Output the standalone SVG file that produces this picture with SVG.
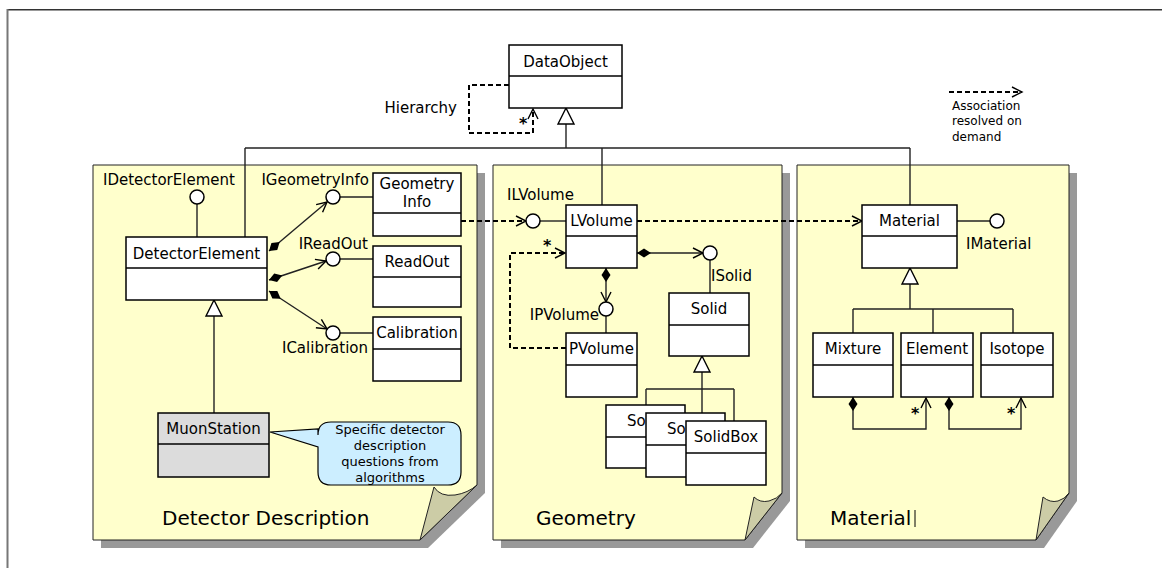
<svg xmlns="http://www.w3.org/2000/svg" width="1162" height="568" viewBox="0 0 1162 568">
  <style>
    text { font-family: "DejaVu Sans", "Liberation Sans", sans-serif; fill: #000; }
    .lbl { font-size: 15px; }
    .cls { font-size: 15px; text-anchor: middle; }
    .small { font-size: 12px; }
    .note { font-size: 13px; text-anchor: middle; }
    .title { font-size: 20px; }
    .star { font-size: 16px; font-weight: bold; }
    .box { fill: #fff; stroke: #000; stroke-width: 1.5; }
    .grey { fill: #dcdcdc; }
    .div { stroke: #000; stroke-width: 1.5; }
    .page { fill: #ffffcc; stroke: #222; stroke-width: 1; }
    .shadow { fill: #999; }
    .flap { fill: #cccca6; stroke: #222; stroke-width: 1; }
    .ln { fill: none; stroke: #222; stroke-width: 1.4; }
    .dash { fill: none; stroke: #000; stroke-width: 2; stroke-dasharray: 5 3; }
    .lolly { fill: #fff; stroke: #000; stroke-width: 1.5; }
  </style>
  <defs>
    <marker id="open" markerUnits="userSpaceOnUse" markerWidth="12" markerHeight="12" refX="10" refY="5" orient="auto" overflow="visible">
      <path d="M0,0 L10,5 L0,10" fill="none" stroke="#000" stroke-width="1.4"/>
    </marker>
    <marker id="tri" markerUnits="userSpaceOnUse" markerWidth="18" markerHeight="18" refX="16" refY="8" orient="auto" overflow="visible">
      <path d="M0,0 L16,8 L0,16 Z" fill="#fff" stroke="#000" stroke-width="1.4"/>
    </marker>
    <marker id="dia" markerUnits="userSpaceOnUse" markerWidth="16" markerHeight="10" refX="0" refY="4.5" orient="auto" overflow="visible">
      <path d="M0,4.5 L7,0 L14,4.5 L7,9 Z" fill="#000"/>
    </marker>
  </defs>

  <!-- outer frame -->
  <rect x="0" y="0" width="1162" height="568" fill="#fff"/>
  <line x1="7" y1="9.5" x2="1162" y2="9.5" stroke="#333" stroke-width="1"/>
  <line x1="7" y1="10.5" x2="1162" y2="10.5" stroke="#999" stroke-width="1"/>
  <line x1="7.5" y1="9" x2="7.5" y2="568" stroke="#777" stroke-width="2"/>

  <!-- packages drawn as curled pages -->
  <g id="pkg-detector">
    <path class="shadow" d="M101,173 H485 V493 L428,548 H101 Z"/>
    <path class="page" d="M93,165 H477 V485 L420,540 H93 Z"/>
    <path class="flap" d="M420,540 L434,487 Q440,497 455,495 Q468,493 477,485 Z"/>
    <text class="title" x="162" y="525">Detector Description</text>
  </g>
  <g id="pkg-geometry">
    <path class="shadow" d="M501,173 H790 V501 L753,548 H501 Z"/>
    <path class="page" d="M493,165 H782 V493 L745,540 H493 Z"/>
    <path class="flap" d="M745,540 L754,497 Q760,503 769,501 Q777,499 782,493 Z"/>
    <text class="title" x="536" y="525">Geometry</text>
  </g>
  <g id="pkg-material">
    <path class="shadow" d="M805,173 H1077 V501 L1044,548 H805 Z"/>
    <path class="page" d="M797,165 H1069 V493 L1036,540 H797 Z"/>
    <path class="flap" d="M1036,540 L1043,497 Q1050,503 1058,501 Q1065,499 1069,493 Z"/>
    <text class="title" x="830" y="525">Material</text>
    <line x1="915" y1="510" x2="915" y2="527" stroke="#000" stroke-width="1"/>
  </g>

  <!-- connectors -->
  <g id="connectors">
    <!-- inheritance from DataObject -->
    <path class="ln" d="M566,148 V108" marker-end="url(#tri)"/>
    <path class="ln" d="M245,148 H910"/>
    <path class="ln" d="M245,148 V237"/>
    <path class="ln" d="M602,148 V205"/>
    <path class="ln" d="M910,148 V205"/>
    <!-- hierarchy self association -->
    <path class="dash" d="M509,85 H469 V133 H533 V109" marker-end="url(#open)"/>

    <!-- detector element interfaces -->
    <path class="ln" d="M197,204 V237"/>
    <path class="ln" d="M340,197 H373"/>
    <path class="ln" d="M340,259 H373"/>
    <path class="ln" d="M340,333 H373"/>
    <path class="ln" d="M269,251 L327,202" marker-start="url(#dia)" marker-end="url(#open)"/>
    <path class="ln" d="M269,280 L326,261" marker-start="url(#dia)" marker-end="url(#open)"/>
    <path class="ln" d="M269,291 L327,329" marker-start="url(#dia)" marker-end="url(#open)"/>
    <path class="ln" d="M214,413 V300" marker-end="url(#tri)"/>

    <!-- geometry info to logical volume -->
    <path class="dash" d="M461,221 H526" marker-end="url(#open)"/>
    <path class="ln" d="M540,221 H566"/>
    <path class="dash" d="M637,221 H862" marker-end="url(#open)"/>
    <path class="ln" d="M957,221 H990"/>

    <!-- logical volume compositions -->
    <path class="ln" d="M637,253 H703" marker-start="url(#dia)" marker-end="url(#open)"/>
    <path class="ln" d="M710,260 V293"/>
    <path class="ln" d="M606,268 V302" marker-start="url(#dia)" marker-end="url(#open)"/>
    <path class="ln" d="M606,316 V333"/>
    <path class="dash" d="M566,348 H510 V253 H565" marker-end="url(#open)"/>

    <!-- solid subclasses -->
    <path class="ln" d="M702,389 V356" marker-end="url(#tri)"/>
    <path class="ln" d="M646,389 H734"/>
    <path class="ln" d="M646,389 V405"/>
    <path class="ln" d="M702,389 V413"/>
    <path class="ln" d="M734,389 V421"/>

    <!-- material subclasses -->
    <path class="ln" d="M910,309 V268" marker-end="url(#tri)"/>
    <path class="ln" d="M853,309 H1013"/>
    <path class="ln" d="M853,309 V333"/>
    <path class="ln" d="M933,309 V333"/>
    <path class="ln" d="M1013,309 V333"/>
    <path class="ln" d="M853,397 V429 H926 V398" marker-start="url(#dia)" marker-end="url(#open)"/>
    <path class="ln" d="M949,397 V429 H1021 V398" marker-start="url(#dia)" marker-end="url(#open)"/>

    <!-- legend -->
    <path class="dash" d="M949,92 H1022" marker-end="url(#open)"/>
  </g>

  <!-- multiplicities and labels -->
  <g id="labels">
    <text class="lbl" x="457" y="113" text-anchor="end">Hierarchy</text>
    <text class="star" x="519" y="129">*</text>
    <text class="star" x="543" y="251">*</text>
    <text class="star" x="911" y="419">*</text>
    <text class="star" x="1007" y="419">*</text>
    <text class="small" x="952" y="110">Association</text>
    <text class="small" x="952" y="125">resolved on</text>
    <text class="small" x="952" y="141">demand</text>
  </g>

  <!-- classes -->
  <g id="DataObject">
    <rect class="box" x="509" y="45" width="113" height="63"/>
    <line class="div" x1="509" y1="76" x2="622" y2="76"/>
    <text class="cls" x="565.5" y="67">DataObject</text>
  </g>

  <g id="IDetectorElement">
    <circle class="lolly" cx="197" cy="197" r="7"/>
    <text class="lbl" x="103" y="185">IDetectorElement</text>
  </g>
  <g id="DetectorElement">
    <rect class="box" x="126" y="237" width="141" height="63"/>
    <line class="div" x1="126" y1="268" x2="267" y2="268"/>
    <text class="cls" x="196.5" y="259">DetectorElement</text>
  </g>
  <g id="IGeometryInfo">
    <circle class="lolly" cx="333" cy="197" r="7"/>
    <text class="lbl" x="369" y="185" text-anchor="end">IGeometryInfo</text>
  </g>
  <g id="GeometryInfo">
    <rect class="box" x="373" y="173" width="88" height="63"/>
    <line class="div" x1="373" y1="213" x2="461" y2="213"/>
    <text class="cls" x="417" y="189">Geometry</text>
    <text class="cls" x="417" y="207">Info</text>
  </g>
  <g id="IReadOut">
    <circle class="lolly" cx="333" cy="259" r="7"/>
    <text class="lbl" x="368" y="249" text-anchor="end">IReadOut</text>
  </g>
  <g id="ReadOut">
    <rect class="box" x="373" y="246" width="88" height="61"/>
    <line class="div" x1="373" y1="277" x2="461" y2="277"/>
    <text class="cls" x="417" y="267">ReadOut</text>
  </g>
  <g id="ICalibration">
    <circle class="lolly" cx="333" cy="333" r="7"/>
    <text class="lbl" x="368" y="353" text-anchor="end">ICalibration</text>
  </g>
  <g id="Calibration">
    <rect class="box" x="373" y="317" width="88" height="64"/>
    <line class="div" x1="373" y1="349" x2="461" y2="349"/>
    <text class="cls" x="417" y="338">Calibration</text>
  </g>
  <g id="MuonStation">
    <rect class="box grey" x="158" y="413" width="111" height="64"/>
    <line class="div" x1="158" y1="444" x2="269" y2="444"/>
    <text class="cls" x="213.5" y="434">MuonStation</text>
  </g>
  <g id="note">
    <path d="M331,422 H448 Q461,422 461,435 V472 Q461,485 448,485 H331 Q318,485 318,472 V447 L270,432 L318,429 V435 Q318,422 331,422 Z" fill="#cceeff" stroke="#000" stroke-width="1.2"/>
    <text class="note" x="390" y="434">Specific detector</text>
    <text class="note" x="390" y="450">description</text>
    <text class="note" x="390" y="466">questions from</text>
    <text class="note" x="390" y="482">algorithms</text>
  </g>

  <g id="ILVolume">
    <circle class="lolly" cx="533" cy="221" r="7"/>
    <text class="lbl" x="507" y="200">ILVolume</text>
  </g>
  <g id="LVolume">
    <rect class="box" x="566" y="205" width="71" height="63"/>
    <line class="div" x1="566" y1="236" x2="637" y2="236"/>
    <text class="cls" x="601.5" y="226">LVolume</text>
  </g>
  <g id="ISolid">
    <circle class="lolly" cx="710" cy="253" r="7"/>
    <text class="lbl" x="711" y="281">ISolid</text>
  </g>
  <g id="Solid">
    <rect class="box" x="669" y="293" width="80" height="63"/>
    <line class="div" x1="669" y1="325" x2="749" y2="325"/>
    <text class="cls" x="709" y="314">Solid</text>
  </g>
  <g id="IPVolume">
    <circle class="lolly" cx="606" cy="309" r="7"/>
    <text class="lbl" x="599" y="320" text-anchor="end">IPVolume</text>
  </g>
  <g id="PVolume">
    <rect class="box" x="566" y="333" width="71" height="64"/>
    <line class="div" x1="566" y1="365" x2="637" y2="365"/>
    <text class="cls" x="601.5" y="354">PVolume</text>
  </g>
  <g id="SolidA">
    <rect class="box" x="606" y="405" width="79" height="63"/>
    <line class="div" x1="606" y1="437" x2="685" y2="437"/>
    <text class="lbl" x="627" y="426">So</text>
  </g>
  <g id="SolidB">
    <rect class="box" x="646" y="413" width="79" height="64"/>
    <line class="div" x1="646" y1="445" x2="725" y2="445"/>
    <text class="lbl" x="667" y="434">So</text>
  </g>
  <g id="SolidBox">
    <rect class="box" x="686" y="421" width="80" height="64"/>
    <line class="div" x1="686" y1="453" x2="766" y2="453"/>
    <text class="cls" x="726" y="442">SolidBox</text>
  </g>

  <g id="Material">
    <rect class="box" x="862" y="205" width="95" height="63"/>
    <line class="div" x1="862" y1="236" x2="957" y2="236"/>
    <text class="cls" x="909.5" y="226">Material</text>
  </g>
  <g id="IMaterial">
    <circle class="lolly" cx="997" cy="221" r="7"/>
    <text class="lbl" x="966" y="249">IMaterial</text>
  </g>
  <g id="Mixture">
    <rect class="box" x="813" y="333" width="80" height="64"/>
    <line class="div" x1="813" y1="365" x2="893" y2="365"/>
    <text class="cls" x="853" y="354">Mixture</text>
  </g>
  <g id="Element">
    <rect class="box" x="901" y="333" width="72" height="64"/>
    <line class="div" x1="901" y1="365" x2="973" y2="365"/>
    <text class="cls" x="937" y="354">Element</text>
  </g>
  <g id="Isotope">
    <rect class="box" x="981" y="333" width="72" height="64"/>
    <line class="div" x1="981" y1="365" x2="1053" y2="365"/>
    <text class="cls" x="1017" y="354">Isotope</text>
  </g>
</svg>
